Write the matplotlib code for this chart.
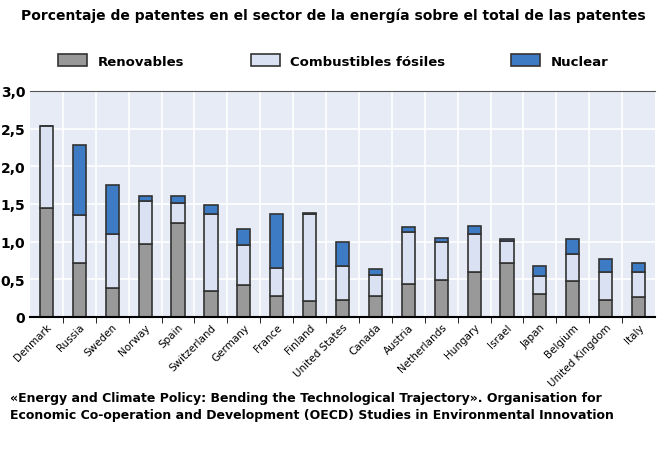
import matplotlib
matplotlib.use("Agg")
import matplotlib.pyplot as plt
import numpy as np

countries = ["Denmark","Russia","Sweden","Norway","Spain","Switzerland","Germany","France","Finland","United States","Canada","Austria","Netherlands","Hungary","Israel","Japan","Belgium","United Kingdom","Italy"]
renovables = [1.44,0.72,0.38,0.97,1.25,0.34,0.42,0.28,0.21,0.23,0.28,0.44,0.49,0.59,0.72,0.31,0.48,0.23,0.26]
fosiles_top = [2.53,1.35,1.10,1.54,1.51,1.37,0.95,0.65,1.36,0.68,0.56,1.13,0.99,1.10,1.01,0.54,0.84,0.59,0.59]
total = [2.53,2.28,1.75,1.61,1.61,1.48,1.17,1.36,1.38,1.00,0.64,1.19,1.05,1.21,1.04,0.68,1.03,0.77,0.72]

fosiles = np.array(fosiles_top) - np.array(renovables)
nuclear = np.array(total) - np.array(fosiles_top)

fig = plt.figure(figsize=(6.67,4.60), dpi=100)
ax = fig.add_axes([0.045,0.309,0.937,0.491])
ax.set_facecolor("#e6ebf5")
x = np.arange(len(countries))
kw = dict(width=0.4, edgecolor="#333333", linewidth=1.2)
ax.bar(x, renovables, color="#999999", label="Renovables", **kw)
ax.bar(x, fosiles, bottom=renovables, color="#d9e1f2", label="Combustibles fósiles", **kw)
ax.bar(x, nuclear, bottom=fosiles_top, color="#3d7cc4", label="Nuclear", **kw)
ax.set_xlim(-0.5, len(countries)-0.5)
ax.set_ylim(0, 3.0)
ax.set_yticks(np.arange(0,3.01,0.5))
ax.set_yticklabels(["0","0,5","1,0","1,5","2,0","2,5","3,0"], fontsize=10, fontweight="bold")
ax.set_xticks(x)
ax.set_xticklabels(countries, rotation=45, ha="right", fontsize=7.5, rotation_mode="anchor")
ax.set_xticks(x[:-1]+0.5, minor=True)
ax.grid(True, axis="y", color="white", linewidth=1.2)
ax.grid(True, axis="x", which="minor", color="white", linewidth=1.2)
ax.set_axisbelow(True)
ax.tick_params(axis="x", which="major", length=0)
ax.tick_params(axis="x", which="minor", length=4, direction="out")
ax.tick_params(axis="y", length=0)
ax.spines["right"].set_visible(False)
ax.spines["top"].set_color("#555555")
ax.spines["bottom"].set_linewidth(1.5)
ax.spines["left"].set_visible(False)

fig.text(0.5, 0.965, "Porcentaje de patentes en el sector de la energía sobre el total de las patentes",
         ha="center", va="center", fontsize=10, fontweight="bold")
fig.legend(loc="center", bbox_to_anchor=(0.5, 0.865), ncol=3, frameon=False,
           prop={"weight":"bold","size":9.5}, columnspacing=5, handlelength=2.2, handleheight=1.0)
fig.text(0.015, 0.115, "«Energy and Climate Policy: Bending the Technological Trajectory». Organisation for\nEconomic Co-operation and Development (OECD) Studies in Environmental Innovation",
         ha="left", va="center", fontsize=9, fontweight="bold", linespacing=1.4)
fig.savefig("out.png", dpi=100)
